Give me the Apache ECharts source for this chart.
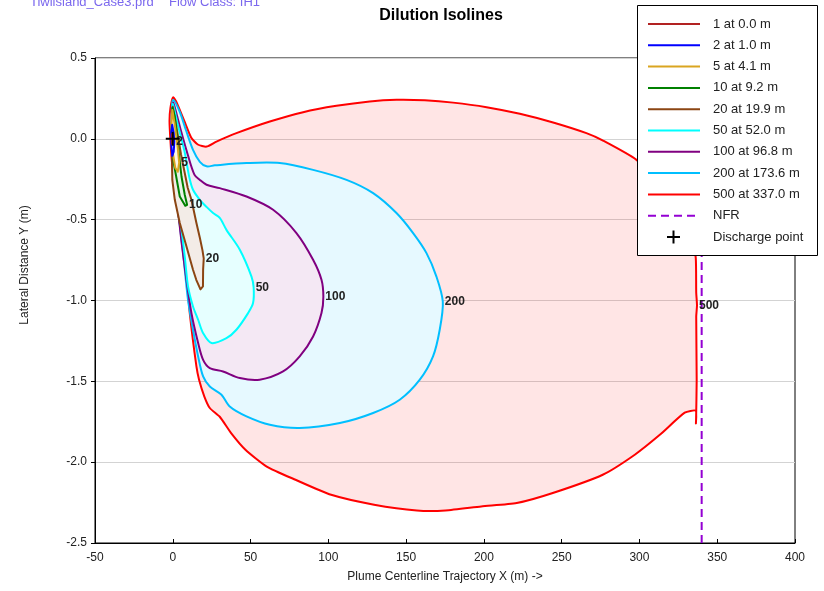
<!DOCTYPE html>
<html>
<head>
<meta charset="utf-8">
<title>Dilution Isolines</title>
<script src="https://cdn.jsdelivr.net/npm/echarts@6/dist/echarts.min.js"></script>
<style>
  html, body { margin: 0; padding: 0; background: #ffffff; }
  #chart { width: 824px; height: 591px; }
</style>
</head>
<body>
<div id="chart"></div>
<script>
// Dilution levels and the downstream distance at which each is reached
const levels = [1, 2, 5, 10, 20, 50, 100, 200, 500];
const distances = [0.0, 1.0, 4.1, 9.2, 19.9, 52.0, 96.8, 173.6, 337.0];

// Isoline outlines, [x (m), y (m)] along the plume
const iso1 = [[-0.5, 0.03], [0.0, 0.0], [-0.5, -0.03]];
const iso2 = [[-0.4, 0.087], [0.6, 0.037], [1.0, -0.019], [0.6, -0.080], [-0.3, -0.105], [-1.0, -0.037], [-1.0, 0.043]];
const iso5 = [[-0.3, 0.179], [1.3, 0.087], [3.2, -0.056], [4.1, -0.148], [3.2, -0.204], [1.6, -0.179], [-0.3, -0.068], [-1.0, 0.068]];
const iso10 = [[-0.2, 0.192], [1.3, 0.136], [3.4, -0.048], [5.6, -0.233], [7.7, -0.346], [9.2, -0.408], [8.0, -0.414], [4.5, -0.357], [0.6, -0.148], [-0.8, 0.056]];
const iso20 = [[0.0, 0.198], [2.1, 0.087], [5.3, -0.097], [9.6, -0.303], [12.0, -0.377], [15.2, -0.521], [17.4, -0.612], [19.1, -0.690], [19.9, -0.740],
  [19.5, -0.810], [19.4, -0.913], [17.8, -0.931], [15.1, -0.872], [13.0, -0.810], [8.8, -0.666], [4.5, -0.521], [1.3, -0.377], [-0.3, -0.254], [-0.6, -0.068], [-0.6, 0.087]];
const iso50 = [[0.0, 0.216], [3.2, 0.088], [7.5, -0.076], [10.7, -0.241], [13.0, -0.315], [17.4, -0.377], [21.7, -0.421], [25.9, -0.459], [30.2, -0.489],
  [34.5, -0.563], [43.1, -0.686], [50.6, -0.852], [52.0, -0.921], [51.6, -1.016], [48.4, -1.078], [40.9, -1.181], [34.5, -1.233], [24.9, -1.263],
  [19.5, -1.202], [16.3, -1.119], [13.0, -1.037], [9.8, -0.913], [7.7, -0.728], [5.6, -0.563], [3.4, -0.419], [1.3, -0.192], [-0.3, -0.006], [-0.3, 0.148]];
const iso100 = [[0.2, 0.223], [2.6, 0.148], [5.3, 0.048], [9.6, -0.097], [13.9, -0.221], [17.4, -0.254], [21.7, -0.284], [30.2, -0.305], [47.4, -0.357],
  [64.5, -0.439], [79.5, -0.583], [90.2, -0.748], [95.6, -0.872], [96.8, -0.977], [95.6, -1.078], [90.2, -1.223], [81.6, -1.346], [70.9, -1.439],
  [55.9, -1.490], [43.1, -1.480], [32.3, -1.439], [23.8, -1.418], [19.5, -1.367], [16.3, -1.263], [12.0, -1.078], [8.8, -0.872], [5.1, -0.594],
  [1.9, -0.284], [0.0, -0.068], [-0.3, 0.118]];
const iso200 = [[0.3, 0.241], [4.5, 0.167], [8.4, 0.056], [13.0, -0.068], [17.4, -0.142], [21.7, -0.170], [27.0, -0.164], [47.4, -0.150], [68.8, -0.150],
  [90.2, -0.192], [111.7, -0.254], [128.8, -0.336], [143.8, -0.459], [154.5, -0.583], [163.1, -0.707], [169.5, -0.852], [173.6, -1.008], [171.6, -1.181],
  [167.3, -1.346], [158.8, -1.490], [145.9, -1.614], [128.8, -1.696], [107.4, -1.758], [81.6, -1.789], [62.4, -1.769], [47.4, -1.717], [36.6, -1.656],
  [31.3, -1.583], [23.8, -1.532], [19.5, -1.470], [16.3, -1.346], [13.0, -1.181], [9.8, -0.996], [6.4, -0.686], [2.6, -0.377], [0.3, -0.130],
  [-0.6, 0.056], [-0.6, 0.179]];
const iso500 = [[0.2, 0.257], [2.1, 0.233], [7.4, 0.111], [11.8, 0.009], [16.1, -0.035], [21.7, -0.048], [28.1, -0.017], [40.9, 0.035], [62.4, 0.107],
  [83.8, 0.165], [105.2, 0.204], [126.6, 0.231], [143.8, 0.241], [162.0, 0.238], [180.2, 0.224], [201.7, 0.196], [223.1, 0.155], [244.5, 0.101],
  [265.9, 0.035], [276.6, -0.011], [298.1, -0.130], [313.1, -0.284], [325.9, -0.458], [333.6, -0.612], [336.2, -0.736], [336.5, -0.950],
  [337.0, -1.030], [336.5, -1.100], [336.8, -1.490], [336.4, -1.738], [336.3, -1.760], [336.2, -1.682], [329.1, -1.694], [313.1, -1.831],
  [297.0, -1.954], [276.4, -2.078], [244.3, -2.191], [221.1, -2.253], [198.3, -2.274], [175.3, -2.299], [156.9, -2.299], [129.4, -2.263],
  [101.8, -2.202], [78.9, -2.109], [60.4, -2.027], [46.7, -1.923], [37.5, -1.820], [30.2, -1.719], [23.8, -1.665], [20.3, -1.594], [16.9, -1.490],
  [15.2, -1.408], [10.9, -1.076], [8.8, -0.831], [5.1, -0.563], [1.3, -0.315], [-0.6, -0.136], [-1.5, -0.012], [-2.1, 0.111], [-1.5, 0.192]];

const isolines = [iso1, iso2, iso5, iso10, iso20, iso50, iso100, iso200, iso500];

// Near-field region boundary and the outfall location
const nfrX = [340, 340];
const nfrY = [-2.5, 0.5];
const dischargePoint = [[0, 0]];

// Axis ticks
const xTicks = [-50, 0, 50, 100, 150, 200, 250, 300, 350, 400];
const yTicks = [0.5, 0.0, -0.5, -1.0, -1.5, -2.0, -2.5];

// Styling
const lineColors = ['#b22222', '#0000ff', '#daa520', '#008000', '#8b4513', '#00ffff', '#800080', '#00bfff', '#ff0000'];
const fillColors = ['#f7e9e9', '#e6e6ff', '#fbf6e9', '#e6f2e6', '#f3ece7', '#e6ffff', '#f4e8f4', '#e6f9ff', 'rgba(255,0,0,0.1)'];
const smoothing = [0, 0, 0, 0, 0, 0.3, 0.3, 0.3, 0.2];
const nfrColor = '#9400d3';
const FONT = '"Liberation Sans", Arial, sans-serif';

// Outer isolines are painted first so the inner ones sit on top
const drawOrder = isolines.map((_, i) => isolines.length - 1 - i);
// The level-1 outline sits under the discharge marker, so it carries no label
const labelled = levels.map((_, i) => i).filter(i => i > 0);

function maxXPoint(pts) {
  let best = pts[0];
  for (const p of pts) if (p[0] > best[0]) best = p;
  return best;
}

const chart = echarts.init(document.getElementById('chart'), null, { renderer: 'canvas' });

// Legend box: one row per isoline, then NFR and the discharge point
const legendRows = levels.map((lv, i) => ({
  text: lv + ' at ' + distances[i].toFixed(1) + ' m', kind: 'line', color: lineColors[i]
})).concat([
  { text: 'NFR', kind: 'dash', color: nfrColor },
  { text: 'Discharge point', kind: 'cross', color: '#000' }
]);
const legendBox = { x: 637, y: 5, w: 180, h: 250, firstRow: 24, rowStep: 21.3 };
const legendGraphics = [{
  type: 'rect', z: 100,
  shape: { x: legendBox.x + 0.5, y: legendBox.y + 0.5, width: legendBox.w, height: legendBox.h },
  style: { fill: '#ffffff', stroke: '#000000', lineWidth: 1 }
}];
legendRows.forEach((row, i) => {
  const cy = legendBox.firstRow + i * legendBox.rowStep;
  if (row.kind === 'line') {
    legendGraphics.push({ type: 'line', z: 101, shape: { x1: 648, y1: cy, x2: 700, y2: cy }, style: { stroke: row.color, lineWidth: 2 } });
  } else if (row.kind === 'dash') {
    legendGraphics.push({ type: 'line', z: 101, shape: { x1: 648, y1: cy, x2: 700, y2: cy }, style: { stroke: row.color, lineWidth: 2, lineDash: [8, 5] } });
  } else {
    legendGraphics.push({ type: 'line', z: 101, shape: { x1: 667, y1: cy, x2: 680, y2: cy }, style: { stroke: '#000', lineWidth: 2 } });
    legendGraphics.push({ type: 'line', z: 101, shape: { x1: 673.5, y1: cy - 6.5, x2: 673.5, y2: cy + 6.5 }, style: { stroke: '#000', lineWidth: 2 } });
  }
  legendGraphics.push({
    type: 'text', z: 101,
    style: { text: row.text, x: 713, y: cy, verticalAlign: 'middle', font: '13px ' + FONT, fill: '#222' }
  });
});

const option = {
  animation: false,
  backgroundColor: '#ffffff',
  grid: { left: 95, right: 29, top: 58, bottom: 48, show: true, borderColor: '#000', borderWidth: 1, backgroundColor: 'transparent' },
  xAxis: {
    type: 'value',
    min: xTicks[0], max: xTicks[xTicks.length - 1], interval: xTicks[1] - xTicks[0],
    name: 'Plume Centerline Trajectory X (m) ->',
    nameLocation: 'middle', nameGap: 28,
    nameTextStyle: { fontSize: 12, color: '#222', fontFamily: FONT },
    axisLine: { onZero: false, lineStyle: { color: '#000', width: 1 } },
    axisTick: { inside: true, length: 4, lineStyle: { color: '#000' } },
    axisLabel: { fontSize: 12, color: '#222', fontFamily: FONT, margin: 9 },
    splitLine: { show: false }
  },
  yAxis: {
    type: 'value',
    min: yTicks[yTicks.length - 1], max: yTicks[0], interval: yTicks[0] - yTicks[1],
    axisLine: { onZero: false, lineStyle: { color: '#000', width: 1 } },
    axisTick: { length: 4, lineStyle: { color: '#000' } },
    axisLabel: { fontSize: 12, color: '#222', fontFamily: FONT, margin: 8, formatter: v => v.toFixed(1) },
    splitLine: { show: true, lineStyle: { color: '#d3d3d3', width: 1 } }
  },
  graphic: [
    { type: 'text', style: { text: 'Tiwilsland_Case3.prd', x: 30, y: 2, verticalAlign: 'middle', font: '13px ' + FONT, fill: '#7b68ee' } },
    { type: 'text', style: { text: 'Flow Class: IH1', x: 169, y: 2, verticalAlign: 'middle', font: '13px ' + FONT, fill: '#7b68ee' } },
    { type: 'text', style: { text: 'Dilution Isolines', x: 441, y: 16, align: 'center', verticalAlign: 'middle', font: 'bold 16px ' + FONT, fill: '#000' } },
    { type: 'text', rotation: Math.PI / 2, x: 25, y: 265,
      style: { text: 'Lateral Distance Y (m)', align: 'center', verticalAlign: 'middle', font: '12px ' + FONT, fill: '#222' } }
  ].concat(legendGraphics),
  series: [
    {
      // filled isoline polygons
      type: 'custom',
      z: 2,
      silent: true,
      data: drawOrder.map(i => [i]),
      renderItem: function (params, api) {
        const i = drawOrder[params.dataIndex];
        const pts = isolines[i].map(p => api.coord(p));
        return {
          type: 'polygon',
          shape: { points: pts, smooth: smoothing[i] },
          style: { fill: fillColors[i], stroke: lineColors[i], lineWidth: 2, lineJoin: 'round' }
        };
      }
    },
    {
      // near-field region boundary
      type: 'line',
      z: 3,
      silent: true,
      symbol: 'none',
      data: nfrX.map((x, k) => [x, nfrY[k]]),
      lineStyle: { color: nfrColor, width: 2, type: [8, 5] }
    },
    {
      // isoline level labels at each outline's farthest downstream point
      type: 'custom',
      z: 4,
      silent: true,
      data: labelled.map(i => [i]),
      renderItem: function (params, api) {
        const i = labelled[params.dataIndex];
        const p = api.coord(maxXPoint(isolines[i]));
        return {
          type: 'text',
          style: { text: String(levels[i]), x: p[0] + 2, y: p[1], verticalAlign: 'middle', font: 'bold 12px ' + FONT, fill: '#222' }
        };
      }
    },
    {
      // discharge point
      type: 'scatter',
      z: 5,
      silent: true,
      data: dischargePoint,
      symbol: 'path://M6,0h2v14h-2z M0,6h14v2h-14z',
      symbolSize: 14,
      itemStyle: { color: '#000', opacity: 1 }
    }
  ]
};

chart.setOption(option);
</script>
</body>
</html>
